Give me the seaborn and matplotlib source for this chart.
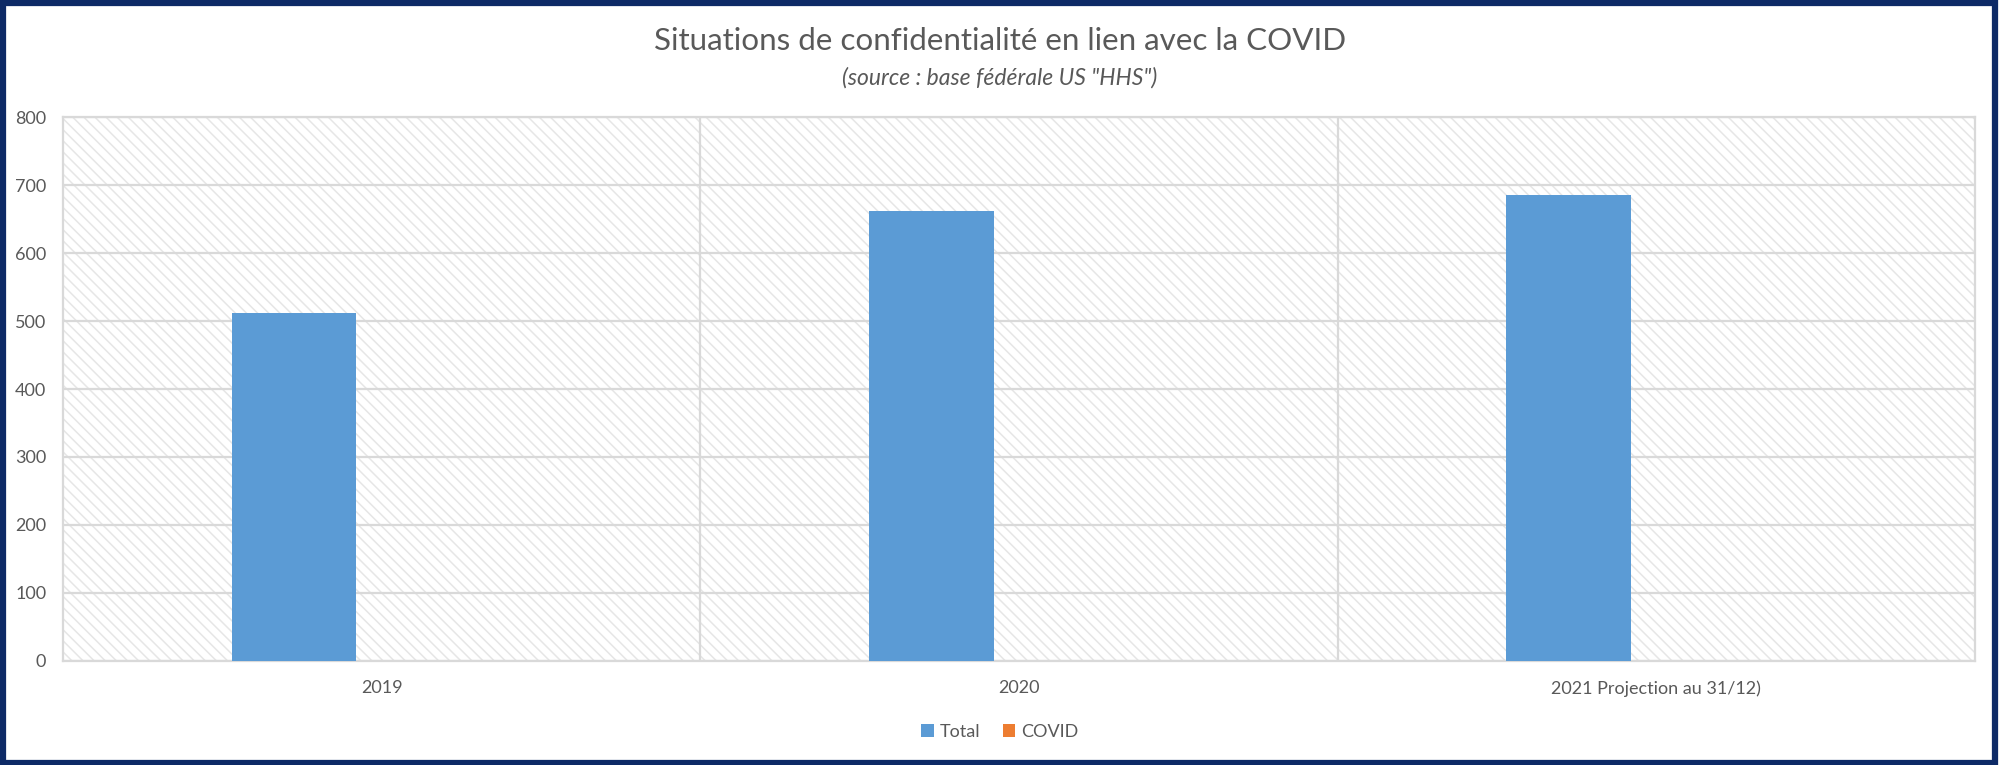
import matplotlib
matplotlib.use("Agg")
import matplotlib.pyplot as plt
from matplotlib.patches import Rectangle, Patch
import seaborn as sns
import pandas as pd

# ---- data ----
categories = ["2019", "2020", "2021 Projection au 31/12)"]
series_names = ["Total", "COVID"]
total_values = [512, 662, 685]
covid_values = [0, 0, 0]
y_ticks = [0, 100, 200, 300, 400, 500, 600, 700, 800]

title = "Situations de confidentialité en lien avec la COVID"
subtitle = '(source : base fédérale US "HHS")'

colors = {"Total": "#5B9BD5", "COVID": "#ED7D31"}
text_color = "#595959"
grid_color = "#d9d9d9"

sns.set_theme(style="white")
plt.rcParams["font.family"] = ["Lato", "DejaVu Sans"]
plt.rcParams["hatch.linewidth"] = 1.1

df = pd.DataFrame({
    "categorie": categories * 2,
    "serie": [series_names[0]] * 3 + [series_names[1]] * 3,
    "valeur": total_values + covid_values,
})

fig = plt.figure(figsize=(20, 7.65), dpi=100)
ax = fig.add_axes([0.0315, 0.136, 0.956, 0.711])

# hatched background
bg = Rectangle((0, 0), 1, 1, transform=ax.transAxes, facecolor="white",
               edgecolor="#e6e6e6", hatch="\\\\\\", linewidth=0, zorder=0)
ax.add_patch(bg)
ax.set_facecolor("white")

sns.barplot(data=df, x="categorie", y="valeur", hue="serie",
            hue_order=series_names, palette=colors, width=0.551, gap=0.29,
            saturation=1, linewidth=0, ax=ax, legend=False, zorder=3)

ax.set_ylim(0, 800)
ax.set_xlim(-0.5, 2.5)
ax.set_yticks(y_ticks)
ax.set_yticklabels([str(v) for v in y_ticks])
ax.yaxis.grid(True, color=grid_color, linewidth=1.6, zorder=1)
ax.set_axisbelow(True)
for xv in [0.5, 1.5]:
    ax.axvline(xv, color=grid_color, linewidth=1.6, zorder=1)
ax.set_xlabel("")
ax.set_ylabel("")
ax.tick_params(axis="both", length=0, colors=text_color, labelsize=13)
ax.tick_params(axis="y", pad=12)
ax.tick_params(axis="x", pad=14)
for s in ax.spines.values():
    s.set_color(grid_color)
    s.set_linewidth(1.6)

fig.text(0.5, 1 - 41 / 765, title, ha="center", va="center",
         fontsize=22.6, color=text_color)
fig.text(0.5, 1 - 78 / 765, subtitle, ha="center", va="center",
         fontsize=16.5, style="italic", color=text_color)

handles = [Patch(facecolor=colors[n], edgecolor="none", label=n) for n in series_names]
leg = fig.legend(handles=handles, loc="center", bbox_to_anchor=(0.5, 1 - 732 / 765),
                 ncol=2, frameon=False, fontsize=13, handlelength=0.7,
                 handleheight=0.7, handletextpad=0.35, columnspacing=1.2)
for t in leg.get_texts():
    t.set_color(text_color)

# outer frame
fig.patches.append(Rectangle((0.0015, 0.003), 0.996, 0.993, transform=fig.transFigure,
                             fill=False, edgecolor="#0d2a66", linewidth=4.5))

fig.savefig("out.png", dpi=100)
